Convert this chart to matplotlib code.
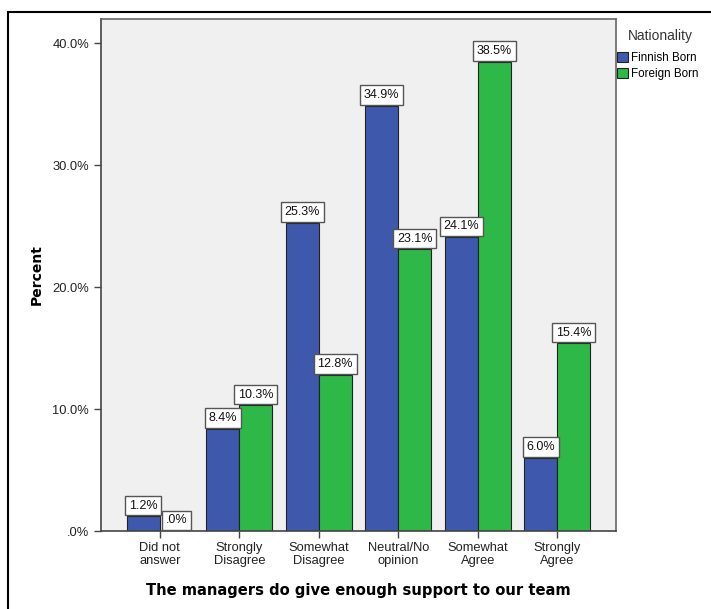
import matplotlib
matplotlib.use("Agg")
import matplotlib.pyplot as plt
import numpy as np
from matplotlib.patches import Rectangle

categories = ["Did not\nanswer", "Strongly\nDisagree", "Somewhat\nDisagree",
              "Neutral/No\nopinion", "Somewhat\nAgree", "Strongly\nAgree"]
finnish = [1.2, 8.4, 25.3, 34.9, 24.1, 6.0]
foreign = [0.0, 10.3, 12.8, 23.1, 38.5, 15.4]
series_names = ["Finnish Born", "Foreign Born"]
legend_title = "Nationality"
yticks = [0, 10, 20, 30, 40]
ytick_labels = [".0%", "10.0%", "20.0%", "30.0%", "40.0%"]

W, H = 711, 609
fig = plt.figure(figsize=(W/100, H/100), dpi=100)
plt.rcParams['font.family'] = ['Liberation Sans', 'DejaVu Sans']

# outer border
fig.patches.append(Rectangle((8/W, -0.01), 1.0, 1 - 12/H + 0.01, transform=fig.transFigure,
                             fill=False, edgecolor='black', linewidth=1.5))

left, right, top, bottom = 101, 616, 19, 531
ax = fig.add_axes([left/W, 1 - bottom/H, (right-left)/W, (bottom-top)/H])
ax.set_facecolor('#F0F0F0')
x = np.arange(len(categories))
bw = 0.415
blue = '#3E58AC'
green = '#2EB848'
b1 = ax.bar(x - bw/2, finnish, bw, color=blue, edgecolor='#222222', linewidth=0.8, label=series_names[0])
b2 = ax.bar(x + bw/2, foreign, bw, color=green, edgecolor='#222222', linewidth=0.8, label=series_names[1])
ax.set_xlim(-0.74, 5.74)
ax.set_ylim(0, 42)
ax.set_yticks(yticks)
ax.set_yticklabels(ytick_labels, fontsize=9.3, color='#222222')
ax.set_xticks(x)
ax.set_xticklabels(categories, fontsize=9.3, color='#222222', linespacing=1.05)
ax.tick_params(axis='both', direction='out', length=5, width=1, color='#444444')
ax.tick_params(axis='x', pad=3)
for s in ax.spines.values():
    s.set_color('#666666')
    s.set_linewidth(1.2)
ax.spines['bottom'].set_color('#444444')
ax.spines['left'].set_color('#444444')

for bars, vals in ((b1, finnish), (b2, foreign)):
    for r, v in zip(bars, vals):
        lbl = f"{v:.1f}%"
        if lbl.startswith("0"):
            lbl = lbl[1:]
        ax.annotate(lbl, (r.get_x() + r.get_width()/2, v), xytext=(0, 3.4),
                    textcoords='offset points', ha='center', va='bottom',
                    fontsize=9, color='#111111',
                    bbox=dict(boxstyle='square,pad=0.3', facecolor='white',
                              edgecolor='#555555', linewidth=1))

ax.set_ylabel("Percent", fontsize=10, fontweight='bold', family='DejaVu Sans', labelpad=6)
ax.set_xlabel("The managers do give enough support to our team", fontsize=10.6,
              fontweight='bold', family='DejaVu Sans', labelpad=12)

fig.text(660/W, 1 - 36/H, legend_title, ha='center', va='center', fontsize=9.9, color='#333333')
leg = fig.legend(handles=[b1, b2], labels=series_names, loc='upper left',
                 bbox_to_anchor=(617/W, 1 - 52/H), frameon=False, fontsize=8.4,
                 handlelength=0.95, handleheight=0.95,
                 handletextpad=0.25, labelspacing=0.3, borderpad=0.0, borderaxespad=0.0)

fig.savefig("out.png", dpi=100)
